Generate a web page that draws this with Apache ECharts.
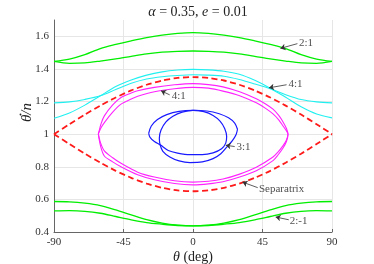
<!DOCTYPE html>
<html><head><meta charset="utf-8">
<script src="https://cdn.jsdelivr.net/npm/echarts@6/dist/echarts.min.js"></script>
<style>html,body{margin:0;padding:0;background:#fff}#c{width:374px;height:264px}</style>
</head><body><div id="c"></div>
<script>
// ---- data ----
const thetaGrid = [-90,-80,-70,-60,-50,-40,-30,-20,-10,0,10,20,30,40,50,60,70,80,90];
const xTicks = [-90,-45,0,45,90];
const yTicks = [0.4,0.6,0.8,1,1.2,1.4,1.6];

// 2:1 resonance (green, top)
const res21A = [1.446,1.460,1.487,1.525,1.550,1.572,1.592,1.607,1.618,1.623,1.618,1.607,1.592,1.572,1.550,1.525,1.487,1.460,1.446];
const res21B = [1.446,1.434,1.437,1.448,1.461,1.477,1.492,1.503,1.508,1.510,1.508,1.503,1.492,1.477,1.461,1.448,1.437,1.434,1.446];
// 4:1 (cyan)
const res41A = [1.098,1.130,1.178,1.235,1.292,1.332,1.362,1.382,1.393,1.397,1.394,1.386,1.367,1.330,1.282,1.226,1.168,1.124,1.100];
const res41B = [1.192,1.198,1.213,1.235,1.274,1.312,1.338,1.352,1.360,1.364,1.362,1.355,1.335,1.308,1.279,1.242,1.212,1.198,1.192];
// separatrix (red dashed)
const sepTop = [1.000,1.061,1.120,1.175,1.225,1.268,1.303,1.329,1.345,1.350,1.345,1.329,1.303,1.268,1.225,1.175,1.120,1.061,1.000];
const sepBot = [1.000,0.939,0.880,0.825,0.775,0.732,0.697,0.671,0.655,0.650,0.655,0.671,0.697,0.732,0.775,0.825,0.880,0.939,1.000];
// 2:-1 (green, bottom)
const res2m1A = [0.587,0.585,0.577,0.562,0.535,0.505,0.476,0.455,0.442,0.437,0.442,0.455,0.476,0.505,0.535,0.562,0.577,0.585,0.587];
const res2m1B = [0.529,0.531,0.527,0.515,0.495,0.475,0.458,0.448,0.440,0.437,0.440,0.448,0.458,0.475,0.495,0.515,0.527,0.531,0.529];

// librations (magenta), closed loops [theta, thetaDot/n]
const libM1 = [[-61.3,1.0],[-59.5,1.065],[-57.4,1.112],[-52,1.180],[-46.6,1.225],[-40,1.252],[-35.8,1.266],[-25,1.287],[-12,1.303],[0,1.310],[10,1.304],[19.4,1.290],[30.2,1.260],[41,1.217],[47,1.185],[51.8,1.153],[55.5,1.115],[58.3,1.075],[60.5,1.035],[61.5,1.0],
  [60.3,0.960],[58.3,0.930],[55,0.890],[51.8,0.860],[41,0.797],[30.2,0.755],[19.4,0.725],[10,0.711],[0,0.706],[-12,0.714],[-25,0.737],[-35.8,0.767],[-46.6,0.821],[-52,0.855],[-57.4,0.897],[-59.8,0.945],[-61.3,1.0]];
const libM2 = [[-61.3,1.0],[-59.8,1.035],[-57.4,1.071],[-52,1.135],[-46.6,1.184],[-40,1.215],[-35.8,1.232],[-25,1.260],[-12,1.278],[0,1.287],[10,1.282],[19.4,1.264],[30.2,1.236],[41,1.192],[47,1.158],[51.8,1.124],[55.5,1.088],[58.3,1.050],[60.5,1.020],[61.5,1.0],
  [60.5,0.955],[58.3,0.915],[55,0.872],[51.8,0.838],[41,0.776],[30.2,0.737],[19.4,0.708],[10,0.695],[0,0.689],[-12,0.697],[-25,0.720],[-35.8,0.751],[-46.6,0.800],[-52,0.830],[-57.4,0.866],[-59.8,0.925],[-61.3,1.0]];
// 3:1 (blue), closed loops
const res31A = [[-28.7,1.005],[-27,1.05],[-23,1.09],[-17,1.12],[-9,1.14],[0,1.146],[7,1.138],[13,1.115],[17.5,1.08],[20.5,1.035],[21.8,0.985],[21.2,0.945],[18.5,0.91],[13,0.885],[6,0.874],[-2,0.874],[-10,0.884],[-16,0.9],[-21,0.933],[-25,0.955],[-27.8,0.98],[-28.7,1.005]];
const res31B = [[28.8,1.03],[27,1.068],[23,1.1],[17,1.125],[9,1.142],[0,1.146],[-7,1.135],[-13,1.11],[-17.5,1.075],[-20.7,1.025],[-21.8,0.975],[-21.3,0.935],[-19.5,0.895],[-15,0.86],[-9,0.836],[-2,0.826],[6,0.83],[13,0.85],[18,0.88],[22,0.922],[25.5,0.96],[28,1.0],[28.8,1.03]];

// annotations: text anchor (left-middle), arrow from -> to
const annotations = [
  {text:'2:1', at:[68.6,1.559], from:[67.6,1.555], to:[56.6,1.526]},
  {text:'4:1', at:[61.8,1.309], from:[60.6,1.303], to:[49.2,1.284]},
  {text:'4:1', at:[-13.8,1.233], from:[-15.1,1.241], to:[-20.7,1.266]},
  {text:'3:1', at:[28.1,0.921], from:[27.0,0.924], to:[21.2,0.932]},
  {text:'Separatrix', at:[42.7,0.665], from:[41.9,0.672], to:[32.0,0.706]},
  {text:'2:-1', at:[62.6,0.468], from:[62.0,0.475], to:[53.5,0.492]}
];

// ---- chart ----
const SERIF = "'Liberation Serif','DejaVu Serif',serif";
const zip = (xs, ys) => xs.map((x,i)=>[x, ys[i]]);
function curve(data, color, width, extra) {
  return Object.assign({
    type:'line', data, showSymbol:false, smooth:0.3, silent:true,
    lineStyle:{color, width}, z:3
  }, extra||{});
}
const splitColors = yTicks.map(()=> '#e6e6e6').concat(['rgba(0,0,0,0)']);

const chart = echarts.init(document.getElementById('c'), null, {renderer:'canvas'});
chart.setOption({
  animation:false,
  backgroundColor:'#fff',
  title:{
    text:'{i|α} = 0.35, {i|e} = 0.01',
    left:193, top:0, textAlign:'center',
    textStyle:{fontFamily:SERIF, fontSize:14, fontWeight:'normal', color:'#222',
      rich:{i:{fontFamily:SERIF, fontSize:14, fontStyle:'italic', color:'#222'}}}
  },
  grid:{left:54, right:42, top:20, bottom:32, containLabel:false, outerBoundsMode:'none'},
  xAxis:{
    type:'value', min:xTicks[0], max:xTicks[xTicks.length-1], interval:45,
    axisLine:{show:true, onZero:false, lineStyle:{color:'#666', width:1}},
    axisTick:{show:true, inside:true, length:3, lineStyle:{color:'#666'}},
    axisLabel:{fontFamily:SERIF, fontSize:11, color:'#333', margin:5},
    splitLine:{show:true, lineStyle:{color:'#e6e6e6', width:1}}
  },
  yAxis:{
    type:'value', min:yTicks[0], max:1.7, interval:0.2,
    axisLine:{show:true, onZero:false, lineStyle:{color:'#666', width:1}},
    axisTick:{show:false},
    axisLabel:{fontFamily:SERIF, fontSize:11, color:'#333', margin:5,
      formatter:v=>{const r=Math.round(v*10)/10; return yTicks.indexOf(r)>=0 ? String(r) : '';}},
    splitLine:{show:true, lineStyle:{color:splitColors, width:1}}
  },
  graphic:[
    {type:'text', x:27, y:112.5, rotation:Math.PI/2,
      style:{text:'θ/n', font:"italic 15px 'Liberation Serif'", fill:'#222', align:'center', verticalAlign:'middle'}},
    {type:'circle', shape:{cx:20.5, cy:114.5, r:0.9}, style:{fill:'#222'}},
    {type:'text', x:193, y:257, style:{text:'{i|θ} (deg)', align:'center', verticalAlign:'middle',
      fontFamily:SERIF, fontSize:14, fill:'#222',
      rich:{i:{fontFamily:SERIF, fontSize:14, fontStyle:'italic', fill:'#222'}}}}
  ],
  series:[
    curve(zip(thetaGrid,res21A), '#00ee00', 1.3),
    curve(zip(thetaGrid,res21B), '#00ee00', 1.3),
    curve(zip(thetaGrid,res41A), '#22f0f0', 1.1),
    curve(zip(thetaGrid,res41B), '#22f0f0', 1.1),
    curve(libM1, '#ff22ff', 1.1),
    curve(libM2, '#ff22ff', 1.1),
    curve(res31A, '#1a1aff', 1.2),
    curve(res31B, '#1a1aff', 1.2),
    curve(zip(thetaGrid,res2m1A), '#00ee00', 1.3),
    curve(zip(thetaGrid,res2m1B), '#00ee00', 1.3),
    curve(zip(thetaGrid,sepTop), '#ff1a1a', 1.8, {smooth:0.2, lineStyle:{color:'#ff1a1a', width:1.8, type:[6,3.5]}, z:4}),
    curve(zip(thetaGrid,sepBot), '#ff1a1a', 1.8, {smooth:0.2, lineStyle:{color:'#ff1a1a', width:1.8, type:[6,3.5]}, z:4}),
    {
      type:'lines', coordinateSystem:'cartesian2d', silent:true, z:6,
      symbol:['none','arrow'], symbolSize:[0,5],
      lineStyle:{color:'#333', width:0.8, opacity:1},
      data: annotations.map(a=>({coords:[a.from, a.to]}))
    },
    {
      type:'scatter', symbolSize:0, silent:true, z:7,
      label:{show:true, position:'right', distance:0, fontFamily:SERIF, fontSize:11, color:'#222',
        formatter:p=>p.data.name},
      data: annotations.map(a=>({name:a.text, value:a.at}))
    }
  ]
});
</script></body></html>
